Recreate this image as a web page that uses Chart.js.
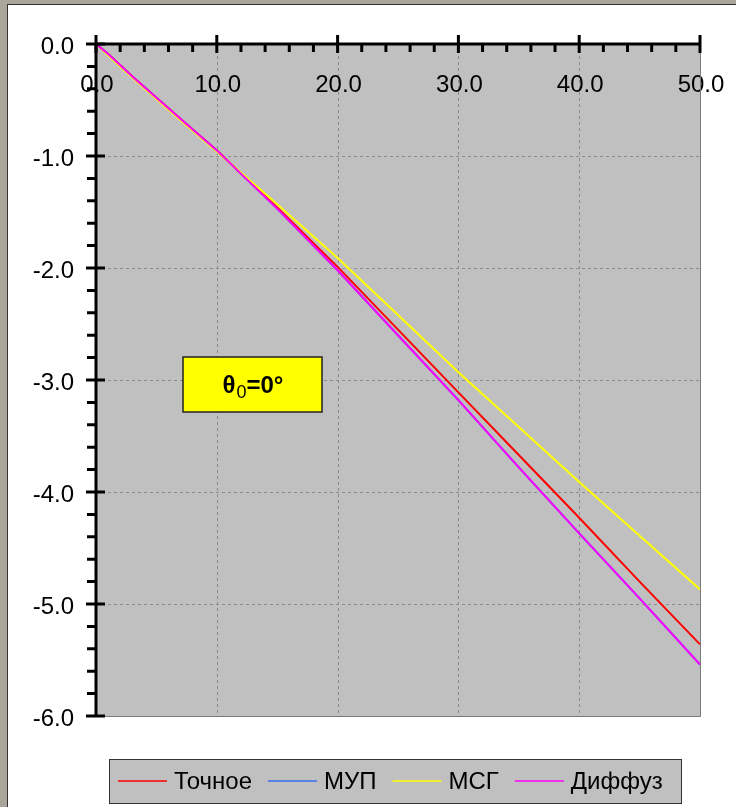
<!DOCTYPE html>
<html>
<head>
<meta charset="utf-8">
<script src="https://cdn.jsdelivr.net/npm/chart.js@4/dist/chart.umd.min.js"></script>
<style>
  html, body { margin: 0; padding: 0; width: 736px; height: 807px; overflow: hidden; background: #aaa69c; }
  #panel { position: absolute; left: 7px; top: 4px; right: 0; bottom: 0; background: #fff; border-left: 1px solid #333; border-top: 1px solid #333; }
  #chart { position: absolute; left: 0; top: 0; }
</style>
</head>
<body>
<div id="panel"></div>
<canvas id="chart" width="736" height="807"></canvas>
<script>
// distance values and the four solutions
const xValues = [0, 1, 2, 3, 5, 7, 10, 15, 20, 25, 30, 35, 40, 45, 50];
const exact   = [0, -0.09, -0.19, -0.29, -0.48, -0.67, -0.95, -1.46, -1.99, -2.55, -3.11, -3.67, -4.23, -4.80, -5.36];
const mup     = [0, -0.09, -0.19, -0.29, -0.48, -0.67, -0.95, -1.47, -2.02, -2.60, -3.18, -3.78, -4.37, -4.95, -5.54];
const msg     = [0, -0.10, -0.20, -0.30, -0.49, -0.68, -0.96, -1.43, -1.91, -2.42, -2.93, -3.42, -3.91, -4.39, -4.87];
const diffuz  = [0, -0.09, -0.19, -0.29, -0.48, -0.67, -0.95, -1.47, -2.02, -2.60, -3.18, -3.78, -4.37, -4.95, -5.54];

const seriesNames = ['Точное', 'МУП', 'МСГ', 'Диффуз'];
const seriesColors = ['#ff0000', '#3a6cf0', '#ffff00', '#ff00ff'];

const xTicks = [0, 10, 20, 30, 40, 50];
const yTicks = [0, -1, -2, -3, -4, -5, -6];
const annotationText = { main: 'θ', sub: '0', rest: '=0°' };

const FONT = '"Liberation Sans", Arial, sans-serif';

function toPoints(ys) {
    return xValues.map((x, i) => ({ x: x, y: ys[i] }));
}

const plotPlugin = {
    id: 'plotFrame',
    beforeDatasetsDraw(chart) {
        const { ctx, chartArea: a, scales: { x, y } } = chart;
        ctx.save();
        ctx.fillStyle = '#c0c0c0';
        ctx.fillRect(a.left, a.top, a.right - a.left, a.bottom - a.top);

        // dotted grid
        ctx.strokeStyle = '#8c8c8c';
        ctx.lineWidth = 1;
        ctx.setLineDash([3, 3]);
        xTicks.forEach(v => {
            const px = Math.round(x.getPixelForValue(v)) + 0.5;
            ctx.beginPath(); ctx.moveTo(px, a.top); ctx.lineTo(px, a.bottom); ctx.stroke();
        });
        yTicks.forEach(v => {
            const py = Math.round(y.getPixelForValue(v)) + 0.5;
            ctx.beginPath(); ctx.moveTo(a.left, py); ctx.lineTo(a.right, py); ctx.stroke();
        });
        ctx.setLineDash([]);

        // x tick labels sit inside the plot, under the top axis
        ctx.fillStyle = '#000';
        ctx.font = '24px ' + FONT;
        ctx.textAlign = 'center';
        ctx.textBaseline = 'middle';
        xTicks.forEach(v => ctx.fillText(v.toFixed(1), x.getPixelForValue(v) + 1, 85));
        ctx.restore();
    },
    afterDatasetsDraw(chart) {
        const { ctx, chartArea: a, scales: { x, y } } = chart;
        ctx.save();

        // thin right / bottom edges
        ctx.strokeStyle = '#7a7a7a';
        ctx.lineWidth = 1;
        ctx.beginPath();
        ctx.moveTo(a.right + 0.5, a.top); ctx.lineTo(a.right + 0.5, a.bottom + 0.5);
        ctx.lineTo(a.left, a.bottom + 0.5);
        ctx.stroke();

        // heavy axes
        ctx.strokeStyle = '#000';
        ctx.lineWidth = 3;
        ctx.beginPath();
        ctx.moveTo(a.left, a.top); ctx.lineTo(a.right + 1, a.top);
        ctx.moveTo(a.left, a.top); ctx.lineTo(a.left, a.bottom + 1);
        ctx.stroke();

        // x ticks: majors cross the axis, minors point into the plot
        ctx.beginPath();
        for (let v = xTicks[0]; v <= xTicks[xTicks.length - 1] + 1e-9; v += 2) {
            const px = x.getPixelForValue(v);
            if (v % 10 === 0) { ctx.moveTo(px, a.top - 9); ctx.lineTo(px, a.top + 9); }
            else { ctx.moveTo(px, a.top); ctx.lineTo(px, a.top + 8); }
        }
        // y ticks: majors cross, minors point outward
        for (let i = 0; i <= 30; i++) {
            const v = -i * 0.2;
            const py = y.getPixelForValue(v);
            if (i % 5 === 0) { ctx.moveTo(a.left - 10, py); ctx.lineTo(a.left + 9, py); }
            else { ctx.moveTo(a.left - 9, py); ctx.lineTo(a.left, py); }
        }
        ctx.stroke();

        // y tick labels
        ctx.fillStyle = '#000';
        ctx.font = '24px ' + FONT;
        ctx.textAlign = 'right';
        ctx.textBaseline = 'middle';
        yTicks.forEach(v => ctx.fillText(v.toFixed(1), 74, y.getPixelForValue(v) + 3));

        // annotation box
        const bx = 183, by = 357, bw = 139, bh = 55;
        ctx.fillStyle = '#ffff00';
        ctx.fillRect(bx, by, bw, bh);
        ctx.strokeStyle = '#222';
        ctx.lineWidth = 1.5;
        ctx.strokeRect(bx, by, bw, bh);
        ctx.fillStyle = '#000';
        ctx.textAlign = 'left';
        ctx.textBaseline = 'alphabetic';
        const bold = 'bold 24px ' + FONT;
        const small = '18px ' + FONT;
        ctx.font = bold; const w1 = ctx.measureText(annotationText.main).width;
        ctx.font = small; const w2 = ctx.measureText(annotationText.sub).width;
        ctx.font = bold; const w3 = ctx.measureText(annotationText.rest).width;
        let tx = bx + (bw - (w1 + w2 + w3)) / 2;
        const base = by + 36;
        ctx.font = bold; ctx.fillText(annotationText.main, tx, base); tx += w1 + 1;
        ctx.font = small; ctx.fillText(annotationText.sub, tx, base + 5); tx += w2;
        ctx.font = bold; ctx.fillText(annotationText.rest, tx, base);

        // legend box
        const lx = 109, ly = 759, lw = 572, lh = 44;
        ctx.fillStyle = '#c0c0c0';
        ctx.fillRect(lx, ly, lw, lh);
        ctx.strokeStyle = '#333';
        ctx.lineWidth = 1;
        ctx.strokeRect(lx + 0.5, ly + 0.5, lw, lh);
        ctx.font = '24px ' + FONT;
        ctx.textBaseline = 'middle';
        let cx = lx + 9;
        const cy = ly + lh / 2 + 1;
        chart.data.datasets.forEach(ds => {
            ctx.strokeStyle = ds.borderColor;
            ctx.lineWidth = 1.5;
            ctx.beginPath(); ctx.moveTo(cx, cy - 1); ctx.lineTo(cx + 49, cy - 1); ctx.stroke();
            cx += 56;
            ctx.fillStyle = '#000';
            ctx.fillText(ds.label, cx, cy);
            cx += ctx.measureText(ds.label).width + 16;
        });
        ctx.restore();
    }
};

const datasetOrder = [2, 3, 1, 0];
const datasets = [exact, mup, msg, diffuz].map((ys, i) => ({
    label: seriesNames[i],
    data: toPoints(ys),
    borderColor: seriesColors[i],
    backgroundColor: seriesColors[i],
    borderWidth: 2,
    pointRadius: 0,
    tension: 0,
    order: datasetOrder[i]
}));

new Chart(document.getElementById('chart'), {
    type: 'line',
    data: { datasets: datasets },
    options: {
        responsive: false,
        animation: false,
        devicePixelRatio: 1,
        layout: { padding: { left: 96, top: 44, right: 36, bottom: 91 } },
        plugins: { legend: { display: false }, tooltip: { enabled: false } },
        scales: {
            x: { type: 'linear', position: 'top', min: 0, max: 50, display: false },
            y: { type: 'linear', min: -6, max: 0, display: false }
        }
    },
    plugins: [plotPlugin]
});
</script>
</body>
</html>
